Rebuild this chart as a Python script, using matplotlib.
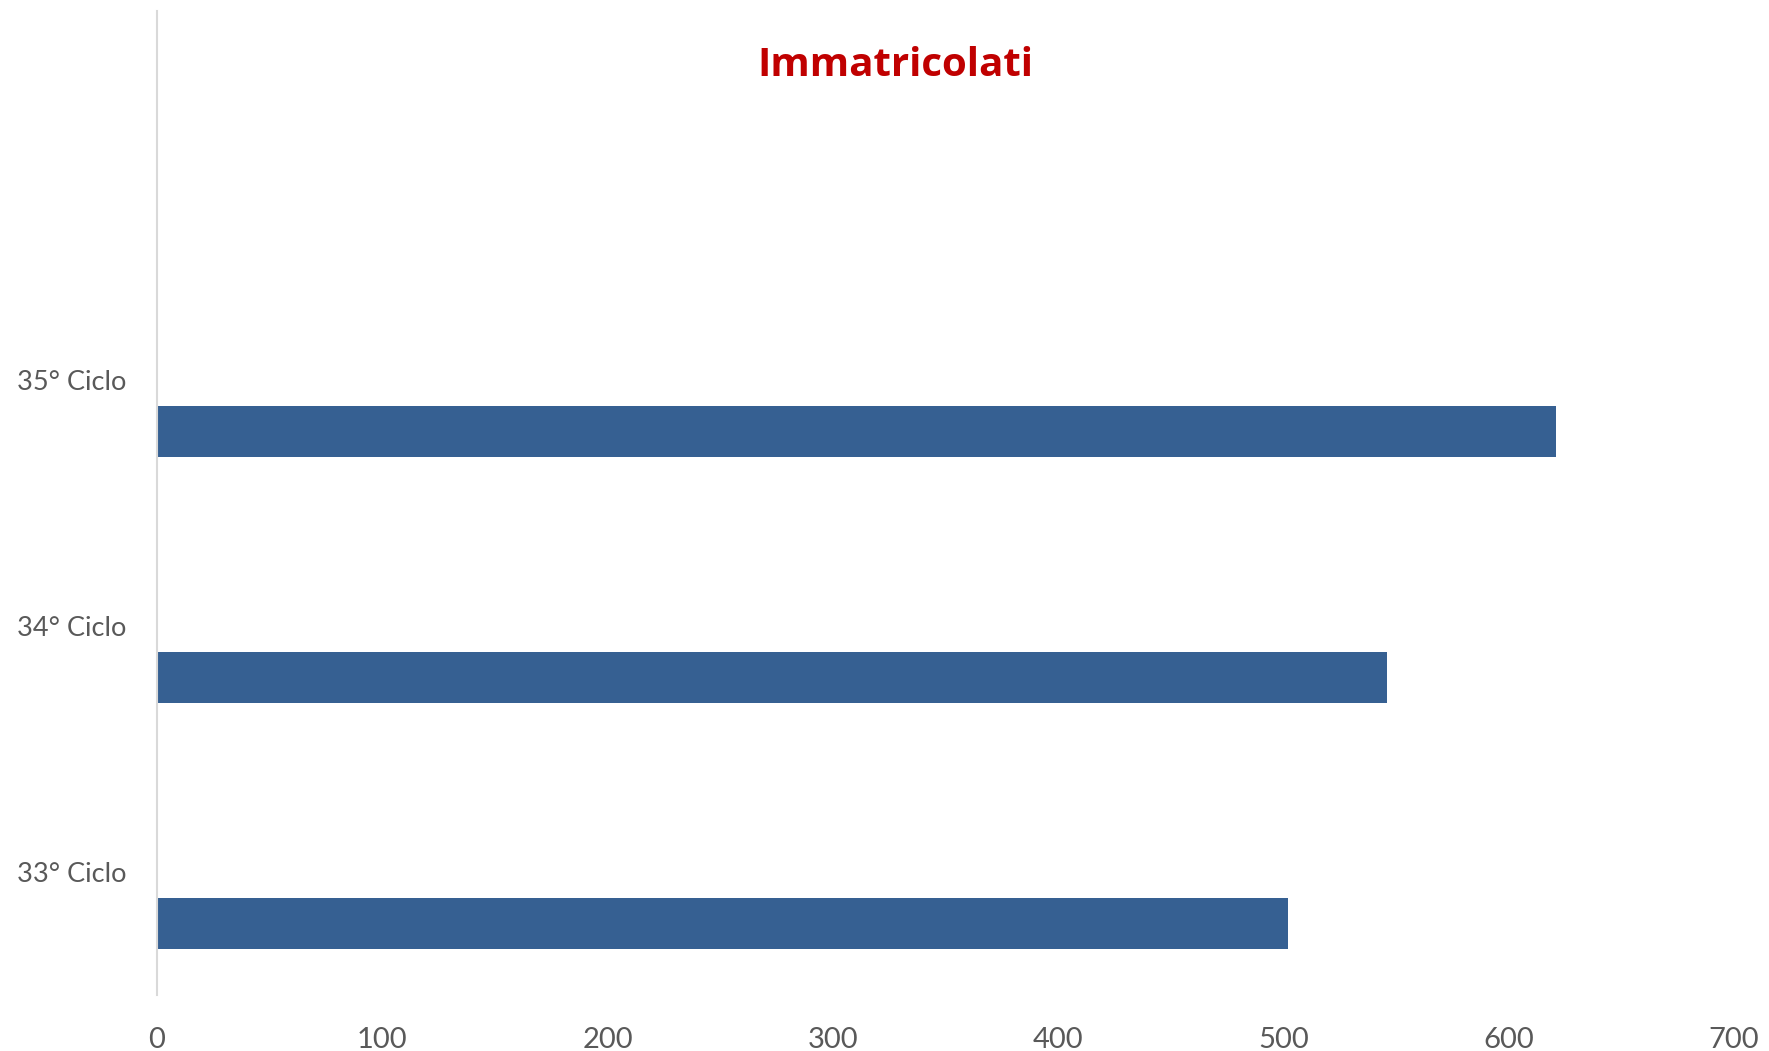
import matplotlib
matplotlib.use("Agg")
import matplotlib.pyplot as plt
import numpy as np

categories = ["33° Ciclo", "34° Ciclo", "35° Ciclo", ""]
values = [502, 546, 621, np.nan]
x_ticks = [0, 100, 200, 300, 400, 500, 600, 700]
title = "Immatricolati"

W, H = 1769, 1051
fig = plt.figure(figsize=(W / 100, H / 100), dpi=100)
left, right, top, bottom = 157, 1734, 11, 995
ax = fig.add_axes([left / W, 1 - bottom / H, (right - left) / W, (bottom - top) / H])

pos = np.arange(len(categories))
bar_offset = -0.209
bar_h = 0.207
ax.barh(pos + bar_offset, values, height=bar_h, color="#366092", align="center")

ax.set_xlim(0, 700)
ax.set_ylim(-0.5, len(categories) - 0.5)
ax.set_xticks(x_ticks)
ax.set_xticklabels([str(t) for t in x_ticks])
ax.set_yticks(pos)
ax.set_yticklabels(categories)

for s in ["top", "right", "bottom"]:
    ax.spines[s].set_visible(False)
ax.spines["left"].set_color("#D9D9D9")
ax.spines["left"].set_linewidth(1.5)

ax.tick_params(axis="both", length=0, colors="#595959")
ax.tick_params(axis="x", pad=23, labelsize=21)
ax.tick_params(axis="y", pad=22, labelsize=19.5)
for lab in ax.get_xticklabels() + ax.get_yticklabels():
    lab.set_fontfamily("Lato")
    lab.set_color("#595959")

fig.text(895 / W, 1 - 66 / H, title, ha="center", va="center",
         fontsize=29, fontweight="bold", color="#C00000", fontfamily="Open Sans")

fig.savefig("out.png", dpi=100, facecolor="white")
